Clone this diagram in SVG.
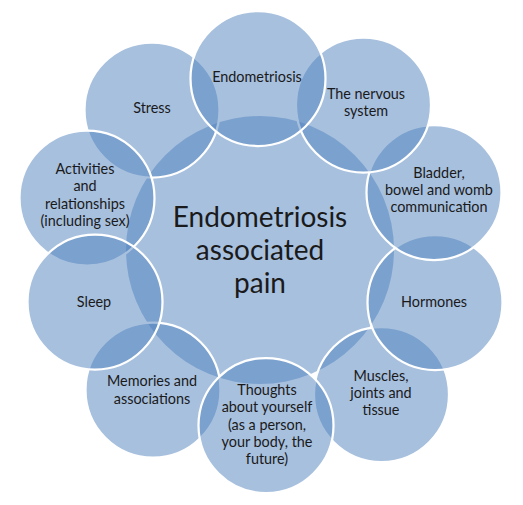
<svg xmlns="http://www.w3.org/2000/svg" width="523" height="505" viewBox="0 0 523 505">
<style>
.bg{fill:#ffffff}
.hub{fill:#4F81BD;fill-opacity:0.5;stroke:none}
.c{fill:#4F81BD;fill-opacity:0.5;stroke:#ffffff;stroke-width:2.25}
.t{font-family:Lato,"Liberation Sans",sans-serif;font-size:14.4px;fill:#1a1a1a;text-anchor:middle}
.big{font-size:28px}
</style>
<rect class="bg" x="0" y="0" width="523" height="505"/>
<g id="hub">
<circle class="hub" cx="260" cy="250" r="134"/>
<text class="t big" x="260" y="227">Endometriosis</text>
<text class="t big" x="260" y="260">associated</text>
<text class="t big" x="260" y="293">pain</text>
</g>
<g id="stress">
<circle class="c" cx="152" cy="110" r="67.5"/>
<text class="t" x="152" y="113">Stress</text>
</g>
<g id="memories">
<circle class="c" cx="153" cy="390" r="67.5"/>
<text class="t" x="152" y="386.3">Memories and</text>
<text class="t" x="152" y="403.7">associations</text>
</g>
<g id="muscles">
<circle class="c" cx="381.5" cy="394.5" r="67.5"/>
<text class="t" x="381" y="380.6">Muscles,</text>
<text class="t" x="381" y="398">joints and</text>
<text class="t" x="381" y="415.4">tissue</text>
</g>
<g id="hormones">
<circle class="c" cx="435" cy="302.5" r="67.5"/>
<text class="t" x="434" y="307">Hormones</text>
</g>
<g id="bladder">
<circle class="c" cx="434" cy="192.5" r="67.5"/>
<text class="t" x="439" y="177.6">Bladder,</text>
<text class="t" x="439" y="195">bowel and womb</text>
<text class="t" x="439" y="212.4">communication</text>
</g>
<g id="nervous">
<circle class="c" cx="363.5" cy="105" r="67.5"/>
<text class="t" x="366" y="98.8">The nervous</text>
<text class="t" x="366" y="116.2">system</text>
</g>
<g id="activities">
<circle class="c" cx="87" cy="198" r="67.5"/>
<text class="t" x="85" y="174">Activities</text>
<text class="t" x="85" y="191.4">and</text>
<text class="t" x="85" y="208.8">relationships</text>
<text class="t" x="85" y="226.2">(including sex)</text>
</g>
<g id="sleep">
<circle class="c" cx="95" cy="302" r="67.5"/>
<text class="t" x="94" y="307">Sleep</text>
</g>
<g id="thoughts">
<circle class="c" cx="266" cy="425.5" r="67.5"/>
<text class="t" x="267" y="394.7">Thoughts</text>
<text class="t" x="267" y="412.1">about yourself</text>
<text class="t" x="267" y="429.5">(as a person,</text>
<text class="t" x="267" y="446.9">your body, the</text>
<text class="t" x="267" y="464.3">future)</text>
</g>
<g id="endometriosis">
<circle class="c" cx="258" cy="78.5" r="67.5"/>
<text class="t" x="257" y="82">Endometriosis</text>
</g>
</svg>
